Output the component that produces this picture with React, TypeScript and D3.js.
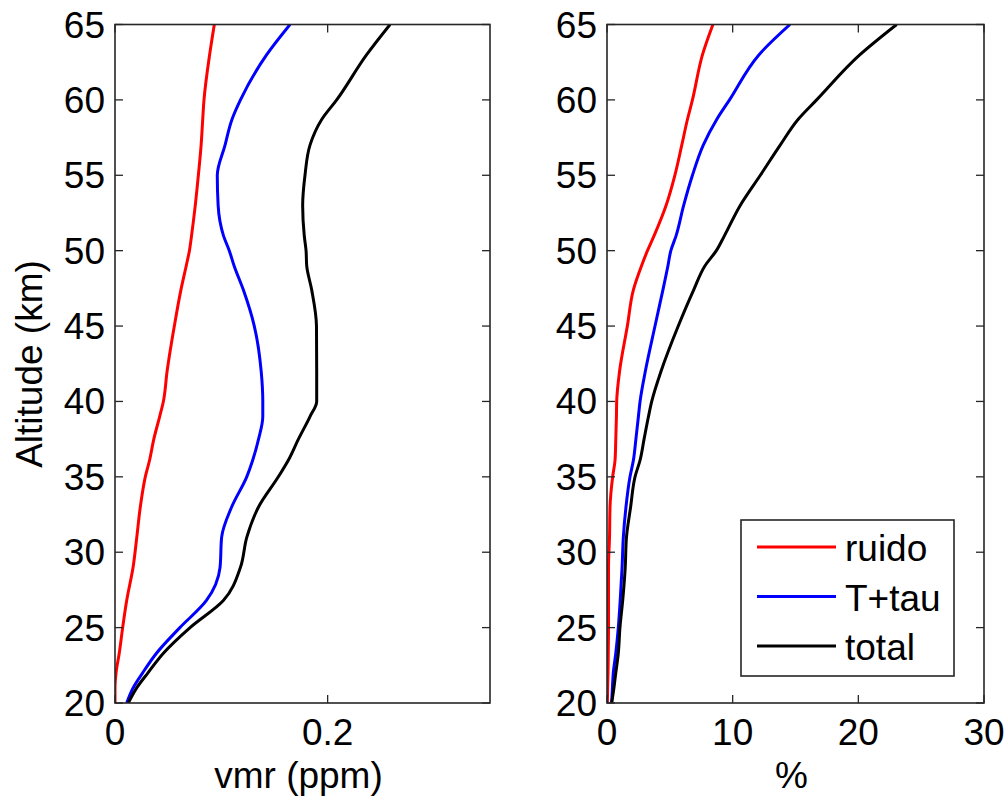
import React from "react";
import * as d3 from "d3";

const altitudes = [20, 21, 22, 23.3, 25, 26.8, 29, 31, 33, 35, 36.1, 37.5, 39, 40, 42, 45, 47.4, 49, 50, 51, 53, 55, 57, 58.7, 60, 63, 65];

const vmrRuido = [0, 0, 0.001, 0.004, 0.0072, 0.011, 0.017, 0.0205, 0.0238, 0.0285, 0.0325, 0.0365, 0.042, 0.0455, 0.049, 0.0558, 0.062, 0.067, 0.07, 0.072, 0.0755, 0.0784, 0.081, 0.0825, 0.0837, 0.089, 0.0934];
const vmrTtau = [0.011, 0.017, 0.026, 0.039, 0.061, 0.086, 0.0988, 0.1003, 0.1097, 0.1239, 0.1295, 0.135, 0.139, 0.139, 0.1375, 0.131, 0.1207, 0.112, 0.1075, 0.102, 0.097, 0.0962, 0.1035, 0.11, 0.118, 0.1427, 0.1646];
const vmrTotal = [0.0125, 0.0204, 0.031, 0.0455, 0.0706, 0.1019, 0.118, 0.124, 0.135, 0.1536, 0.163, 0.1725, 0.1834, 0.1897, 0.1897, 0.1895, 0.185, 0.1803, 0.1797, 0.178, 0.1765, 0.1787, 0.1834, 0.1944, 0.2085, 0.2367, 0.2587];

const pctRuido = [0.03, 0.05, 0.08, 0.1, 0.12, 0.12, 0.12, 0.2, 0.24, 0.45, 0.64, 0.7, 0.75, 0.77, 1.0, 1.62, 2.1, 2.75, 3.22, 3.75, 4.7, 5.4, 5.95, 6.4, 6.8, 7.6, 8.43];
const pctTtau = [0.37, 0.43, 0.5, 0.7, 0.9, 1.05, 1.2, 1.3, 1.51, 1.83, 2.1, 2.3, 2.5, 2.63, 3.05, 3.82, 4.45, 4.85, 5.08, 5.5, 6.1, 6.8, 7.66, 8.73, 9.75, 12.1, 14.56];
const pctTotal = [0.37, 0.55, 0.7, 0.9, 1.03, 1.25, 1.45, 1.55, 1.88, 2.23, 2.63, 2.95, 3.3, 3.56, 4.3, 5.67, 6.9, 7.8, 8.7, 9.35, 10.6, 12.2, 13.78, 15.2, 16.68, 20.13, 23.05];

const yTicks = [20, 25, 30, 35, 40, 45, 50, 55, 60, 65];
const vmrTicks = [0, 0.2];
const vmrTickLabels = ["0", "0.2"];
const pctTicks = [0, 10, 20, 30];
const pctTickLabels = ["0", "10", "20", "30"];

const seriesNames = ["ruido", "T+tau", "total"];
const seriesColors = ["#ff0000", "#0000ff", "#000000"];

const FONT = "'Liberation Sans', Arial, sans-serif";
const FS = 37;
const LW = 3;

const top = 24.5;
const bottom = 703;

type PanelProps = {
  x0: number;
  x1: number;
  domain: [number, number];
  ticks: number[];
  tickLabels: string[];
  series: number[][];
  xTitle: string;
  clipId: string;
};

function Panel({ x0, x1, domain, ticks, tickLabels, series, xTitle, clipId }: PanelProps) {
  const x = d3.scaleLinear().domain(domain).range([x0, x1]);
  const y = d3.scaleLinear().domain([20, 65]).range([bottom, top]);
  const tl = 8;
  return (
    <g>
      <defs>
        <clipPath id={clipId}>
          <rect x={x0} y={top} width={x1 - x0} height={bottom - top} />
        </clipPath>
      </defs>
      <g clipPath={`url(#${clipId})`}>
        {series.map((vals, i) => {
          const line = d3
            .line<number>()
            .x((v) => x(v))
            .y((_, j) => y(altitudes[j]))
            .curve(d3.curveMonotoneY);
          return (
            <path
              key={i}
              d={line(vals) || ""}
              fill="none"
              stroke={seriesColors[i]}
              strokeWidth={LW}
              strokeLinejoin="round"
            />
          );
        })}
      </g>
      <rect x={x0} y={top} width={x1 - x0} height={bottom - top} fill="none" stroke="#262626" strokeWidth={1.6} />
      {yTicks.map((t) => (
        <g key={"y" + t}>
          <line x1={x0} x2={x0 + tl} y1={y(t)} y2={y(t)} stroke="#262626" strokeWidth={1.3} />
          <line x1={x1} x2={x1 - tl} y1={y(t)} y2={y(t)} stroke="#262626" strokeWidth={1.3} />
          <text x={x0 - 10} y={y(t) + 13} textAnchor="end" fontFamily={FONT} fontSize={FS} fill="#000">
            {t}
          </text>
        </g>
      ))}
      {ticks.map((t, i) => (
        <g key={"x" + t}>
          <line x1={x(t)} x2={x(t)} y1={bottom} y2={bottom - tl} stroke="#262626" strokeWidth={1.3} />
          <line x1={x(t)} x2={x(t)} y1={top} y2={top + tl} stroke="#262626" strokeWidth={1.3} />
          <text x={x(t)} y={bottom + 42} textAnchor="middle" fontFamily={FONT} fontSize={FS} fill="#000">
            {tickLabels[i]}
          </text>
        </g>
      ))}
      <text x={(x0 + x1) / 2 - 4} y={788} textAnchor="middle" fontFamily={FONT} fontSize={FS} fill="#000">
        {xTitle}
      </text>
    </g>
  );
}

export default function App() {
  const legendX = 741;
  const legendY = 520;
  const legendW = 213;
  const legendH = 156;
  return (
    <svg
      width={1008}
      height={800}
      style={{ position: "absolute", left: 0, top: 0, background: "#fff" }}
    >
      <rect x={0} y={0} width={1008} height={800} fill="#fff" />
      <Panel
        x0={115}
        x1={490}
        domain={[0, 0.3527]}
        ticks={vmrTicks}
        tickLabels={vmrTickLabels}
        series={[vmrRuido, vmrTtau, vmrTotal]}
        xTitle="vmr (ppm)"
        clipId="clipL"
      />
      <Panel
        x0={607}
        x1={984}
        domain={[0, 30]}
        ticks={pctTicks}
        tickLabels={pctTickLabels}
        series={[pctRuido, pctTtau, pctTotal]}
        xTitle="%"
        clipId="clipR"
      />
      <text
        transform={`translate(42, 364) rotate(-90)`}
        textAnchor="middle"
        fontFamily={FONT}
        fontSize={FS}
        fill="#000"
      >
        Altitude (km)
      </text>
      <g>
        <rect x={legendX} y={legendY} width={legendW} height={legendH} fill="#fff" stroke="#262626" strokeWidth={1.6} />
        {seriesNames.map((name, i) => {
          const ly = 547 + i * 49.5;
          return (
            <g key={name}>
              <line x1={757} x2={836} y1={ly} y2={ly} stroke={seriesColors[i]} strokeWidth={LW} />
              <text x={845} y={ly + 14} fontFamily={FONT} fontSize={FS} fill="#000">
                {name}
              </text>
            </g>
          );
        })}
      </g>
    </svg>
  );
}
